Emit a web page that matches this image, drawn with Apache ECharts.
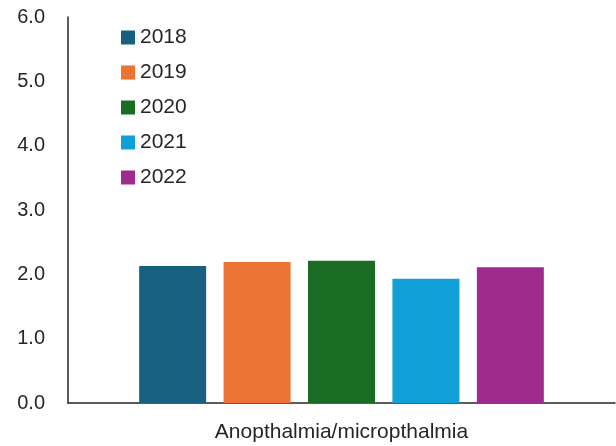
<!DOCTYPE html>
<html>
<head>
<meta charset="utf-8">
<script src="https://cdn.jsdelivr.net/npm/echarts@6/dist/echarts.min.js"></script>
<style>
  html, body { margin: 0; padding: 0; background: #fff; }
  #chart { width: 616px; height: 446px; }
</style>
</head>
<body>
<div id="chart"></div>
<script>
// data
const categories = ["Anopthalmia/micropthalmia"];
const years = ["2018", "2019", "2020", "2021", "2022"];
const values2018 = [2.13];
const values2019 = [2.19];
const values2020 = [2.21];
const values2021 = [1.93];
const values2022 = [2.11];
const yTicks = [0, 1, 2, 3, 4, 5, 6];

const colors = ["#17607f", "#eb7334", "#1a6b24", "#109fd7", "#a02b8f"];
const seriesValues = [values2018, values2019, values2020, values2021, values2022];

const myChart = echarts.init(document.getElementById("chart"));

const option = {
  animation: false,
  color: colors,
  textStyle: { fontFamily: "Liberation Sans" },
  grid: {
    left: 68,
    right: 1,
    top: 17,
    bottom: 43,
  },
  legend: {
    data: years,
    orient: "vertical",
    left: 116,
    top: 22,
    icon: "rect",
    itemWidth: 14,
    itemHeight: 14,
    itemGap: 14,
    textStyle: {
      fontSize: 21,
      lineHeight: 20,
      color: "#262626",
    },
  },
  xAxis: {
    type: "category",
    data: categories,
    axisLine: { lineStyle: { color: "#262626", width: 1.5 } },
    axisTick: { show: false },
    axisLabel: {
      fontSize: 21,
      color: "#262626",
      margin: 19,
    },
  },
  yAxis: {
    type: "value",
    min: yTicks[0],
    max: yTicks[yTicks.length - 1],
    interval: 1,
    axisLine: { show: true, lineStyle: { color: "#262626", width: 1.5 } },
    axisTick: { show: false },
    splitLine: { show: false },
    axisLabel: {
      fontSize: 20,
      color: "#262626",
      margin: 23,
      formatter: (v) => v.toFixed(1),
    },
  },
  series: years.map((y, i) => ({
    name: y,
    type: "bar",
    data: seriesValues[i],
    barWidth: 67,
    barGap: "26%",
  })),
};

myChart.setOption(option);
window.onresize = function () {
  myChart.resize();
};
</script>
</body>
</html>
